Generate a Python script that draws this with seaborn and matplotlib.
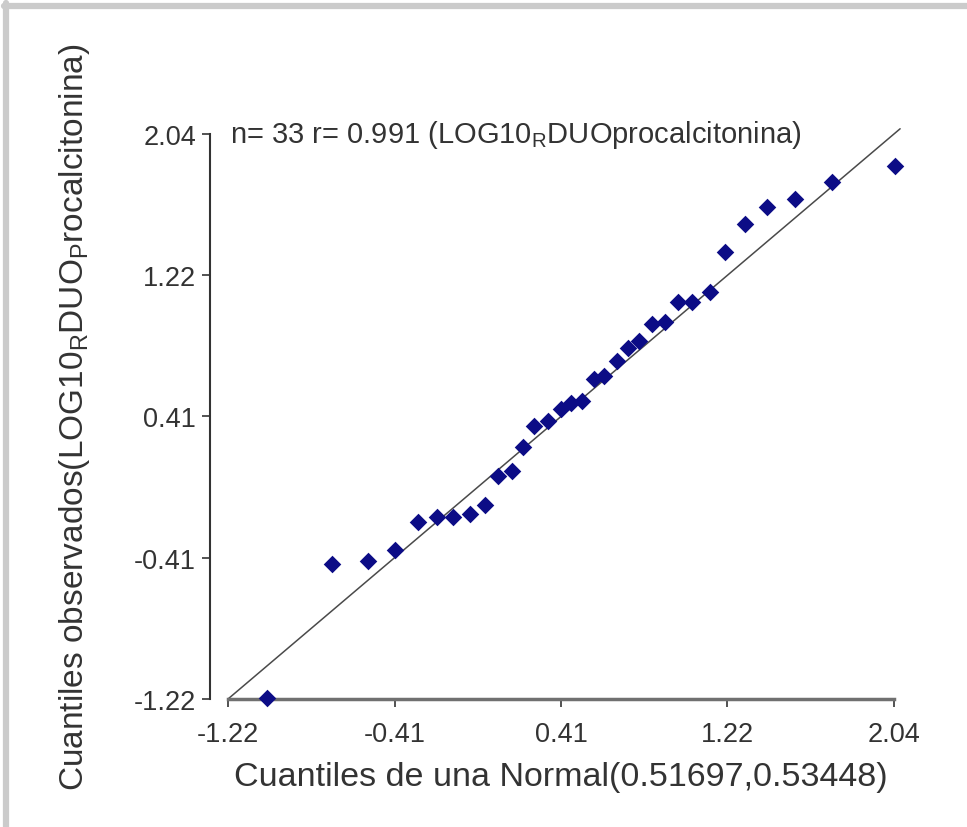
import matplotlib
matplotlib.use('Agg')
import matplotlib.pyplot as plt
import seaborn as sns
import pandas as pd

# Cuantiles teóricos (Normal) y observados
normal_q = [-1.029, -0.711, -0.535, -0.403, -0.290, -0.197, -0.119, -0.035, 0.038,
            0.102, 0.170, 0.224, 0.278, 0.346, 0.410, 0.459, 0.513, 0.571, 0.620,
            0.684, 0.738, 0.792, 0.855, 0.919, 0.983, 1.051, 1.139, 1.213, 1.311,
            1.418, 1.555, 1.736, 2.045]
observed_q = [-1.214, -0.441, -0.424, -0.360, -0.199, -0.170, -0.170, -0.152, -0.101,
              0.067, 0.096, 0.234, 0.355, 0.384, 0.453, 0.488, 0.500, 0.627, 0.644,
              0.730, 0.805, 0.846, 0.944, 0.955, 1.071, 1.071, 1.129, 1.359, 1.521,
              1.619, 1.665, 1.763, 1.856]
ref_line = [-1.22, 2.07]
tick_vals = [-1.22, -0.405, 0.41, 1.225, 2.04]
tick_labels = ['-1.22', '-0.41', '0.41', '1.22', '2.04']

df = pd.DataFrame({'normal': normal_q, 'observado': observed_q})

sns.set_theme(style="white")
plt.rcParams['font.family'] = ['Liberation Sans', 'DejaVu Sans']
plt.rcParams['mathtext.fontset'] = 'custom'
plt.rcParams['mathtext.rm'] = 'Liberation Sans'

txt = '#333333'

fig = plt.figure(figsize=(9.67, 8.28), dpi=100)
ax = fig.add_axes([0.2358, 0.1546, 0.6887, 0.6824])

ax.plot(ref_line, ref_line, color='#4a4a4a', lw=1.1, clip_on=False, zorder=2)
sns.scatterplot(data=df, x='normal', y='observado', marker='D', color='#0c0c86',
                s=80, linewidth=0, ax=ax, clip_on=False, zorder=3)

ax.set_xlim(-1.22, 2.04)
ax.set_ylim(-1.22, 2.04)
ax.set_xticks(tick_vals)
ax.set_xticklabels(tick_labels)
ax.set_yticks(tick_vals)
ax.set_yticklabels(tick_labels)

sns.despine(ax=ax, offset={'left': 13, 'bottom': 0})
ax.spines['left'].set_color('#333333')
ax.spines['left'].set_linewidth(1.5)
ax.spines['bottom'].set_color('#707070')
ax.spines['bottom'].set_linewidth(2.5)
ax.tick_params(axis='both', which='both', direction='out', length=6, width=1.3,
               color='#444444', labelsize=19.5, labelcolor=txt, pad=4,
               bottom=True, left=True)
ax.tick_params(axis='x', pad=10)

ax.set_xlabel('Cuantiles de una Normal(0.51697,0.53448)', fontsize=24.5, color=txt,
              labelpad=10)
ax.set_ylabel(r'Cuantiles observados(LOG10$_\mathregular{R}$DUO$_\mathregular{P}$rocalcitonina)',
              fontsize=24, color=txt, labelpad=30)

ax.text(-1.21, 2.04, r'n= 33 r= 0.991 (LOG10$_\mathregular{R}$DUOprocalcitonina)',
        fontsize=21, color=txt, va='center', ha='left')

# marco gris de la captura
fig.add_artist(plt.Line2D([0.004, 1.0], [0.992, 0.992], transform=fig.transFigure,
                          color='#cbcbcb', lw=4.5))
fig.add_artist(plt.Line2D([0.006, 0.006], [0.0, 0.995], transform=fig.transFigure,
                          color='#cbcbcb', lw=4.5))

fig.savefig('out.png', dpi=100, facecolor='white')
